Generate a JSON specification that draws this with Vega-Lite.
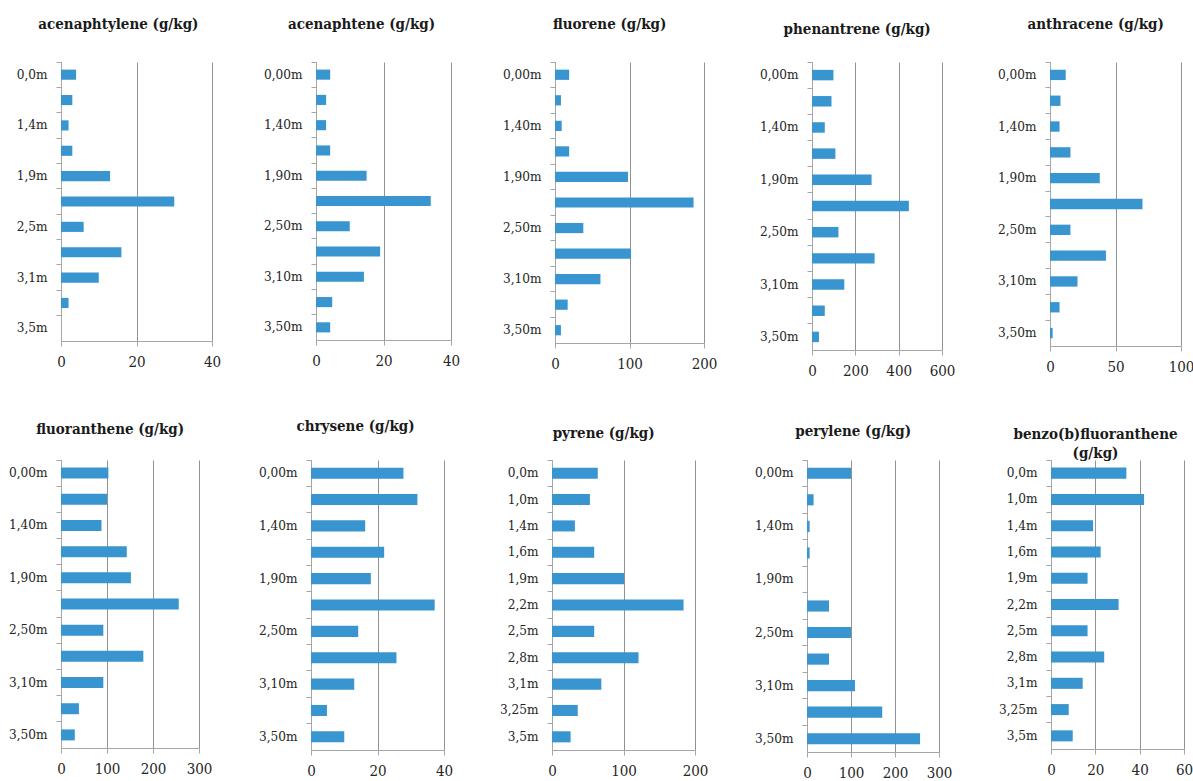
{
  "$schema": "https://vega.github.io/schema/vega-lite/v6.json",
  "padding": {"left": 8, "top": 16, "right": 0, "bottom": 0},
  "background": "white",
  "datasets": {
    "pah": [
      {"c": "acenaphtylene", "d": "0,0m", "v": 4},
      {"c": "acenaphtylene", "d": "1,0m", "v": 3},
      {"c": "acenaphtylene", "d": "1,4m", "v": 2},
      {"c": "acenaphtylene", "d": "1,6m", "v": 3},
      {"c": "acenaphtylene", "d": "1,9m", "v": 13},
      {"c": "acenaphtylene", "d": "2,2m", "v": 30},
      {"c": "acenaphtylene", "d": "2,5m", "v": 6},
      {"c": "acenaphtylene", "d": "2,8m", "v": 16},
      {"c": "acenaphtylene", "d": "3,1m", "v": 10},
      {"c": "acenaphtylene", "d": "3,25m", "v": 2},
      {"c": "acenaphtylene", "d": "3,5m", "v": 0},
      {"c": "acenaphtene", "d": "0,00m", "v": 4.2},
      {"c": "acenaphtene", "d": "1,00m", "v": 3},
      {"c": "acenaphtene", "d": "1,40m", "v": 3},
      {"c": "acenaphtene", "d": "1,60m", "v": 4.2},
      {"c": "acenaphtene", "d": "1,90m", "v": 15},
      {"c": "acenaphtene", "d": "2,20m", "v": 34},
      {"c": "acenaphtene", "d": "2,50m", "v": 10},
      {"c": "acenaphtene", "d": "2,80m", "v": 19},
      {"c": "acenaphtene", "d": "3,10m", "v": 14.2},
      {"c": "acenaphtene", "d": "3,25m", "v": 4.8},
      {"c": "acenaphtene", "d": "3,50m", "v": 4.2},
      {"c": "fluorene", "d": "0,00m", "v": 19},
      {"c": "fluorene", "d": "1,00m", "v": 8},
      {"c": "fluorene", "d": "1,40m", "v": 9},
      {"c": "fluorene", "d": "1,60m", "v": 19},
      {"c": "fluorene", "d": "1,90m", "v": 98},
      {"c": "fluorene", "d": "2,20m", "v": 186},
      {"c": "fluorene", "d": "2,50m", "v": 38},
      {"c": "fluorene", "d": "2,80m", "v": 102},
      {"c": "fluorene", "d": "3,10m", "v": 61},
      {"c": "fluorene", "d": "3,25m", "v": 17},
      {"c": "fluorene", "d": "3,50m", "v": 8},
      {"c": "phenantrene", "d": "0,00m", "v": 99},
      {"c": "phenantrene", "d": "1,00m", "v": 90},
      {"c": "phenantrene", "d": "1,40m", "v": 59},
      {"c": "phenantrene", "d": "1,60m", "v": 108},
      {"c": "phenantrene", "d": "1,90m", "v": 275},
      {"c": "phenantrene", "d": "2,20m", "v": 447},
      {"c": "phenantrene", "d": "2,50m", "v": 122},
      {"c": "phenantrene", "d": "2,80m", "v": 289},
      {"c": "phenantrene", "d": "3,10m", "v": 149},
      {"c": "phenantrene", "d": "3,25m", "v": 59},
      {"c": "phenantrene", "d": "3,50m", "v": 32},
      {"c": "anthracene", "d": "0,00m", "v": 12},
      {"c": "anthracene", "d": "1,00m", "v": 8},
      {"c": "anthracene", "d": "1,40m", "v": 7.3},
      {"c": "anthracene", "d": "1,60m", "v": 15.6},
      {"c": "anthracene", "d": "1,90m", "v": 38},
      {"c": "anthracene", "d": "2,20m", "v": 70.6},
      {"c": "anthracene", "d": "2,50m", "v": 15.6},
      {"c": "anthracene", "d": "2,80m", "v": 42.7},
      {"c": "anthracene", "d": "3,10m", "v": 21},
      {"c": "anthracene", "d": "3,25m", "v": 7.3},
      {"c": "anthracene", "d": "3,50m", "v": 2},
      {"c": "fluoranthene", "d": "0,00m", "v": 103},
      {"c": "fluoranthene", "d": "1,00m", "v": 100},
      {"c": "fluoranthene", "d": "1,40m", "v": 88},
      {"c": "fluoranthene", "d": "1,60m", "v": 143},
      {"c": "fluoranthene", "d": "1,90m", "v": 152},
      {"c": "fluoranthene", "d": "2,20m", "v": 256},
      {"c": "fluoranthene", "d": "2,50m", "v": 92},
      {"c": "fluoranthene", "d": "2,80m", "v": 179},
      {"c": "fluoranthene", "d": "3,10m", "v": 92},
      {"c": "fluoranthene", "d": "3,25m", "v": 39},
      {"c": "fluoranthene", "d": "3,50m", "v": 30},
      {"c": "chrysene", "d": "0,00m", "v": 27.8},
      {"c": "chrysene", "d": "1,00m", "v": 32},
      {"c": "chrysene", "d": "1,40m", "v": 16.3},
      {"c": "chrysene", "d": "1,60m", "v": 22},
      {"c": "chrysene", "d": "1,90m", "v": 18},
      {"c": "chrysene", "d": "2,20m", "v": 37.2},
      {"c": "chrysene", "d": "2,50m", "v": 14.2},
      {"c": "chrysene", "d": "2,80m", "v": 25.7},
      {"c": "chrysene", "d": "3,10m", "v": 13},
      {"c": "chrysene", "d": "3,25m", "v": 4.8},
      {"c": "chrysene", "d": "3,50m", "v": 10},
      {"c": "pyrene", "d": "0,0m", "v": 64},
      {"c": "pyrene", "d": "1,0m", "v": 53},
      {"c": "pyrene", "d": "1,4m", "v": 32},
      {"c": "pyrene", "d": "1,6m", "v": 59},
      {"c": "pyrene", "d": "1,9m", "v": 101},
      {"c": "pyrene", "d": "2,2m", "v": 184},
      {"c": "pyrene", "d": "2,5m", "v": 59},
      {"c": "pyrene", "d": "2,8m", "v": 121},
      {"c": "pyrene", "d": "3,1m", "v": 69},
      {"c": "pyrene", "d": "3,25m", "v": 36},
      {"c": "pyrene", "d": "3,5m", "v": 26},
      {"c": "perylene", "d": "0,00m", "v": 100},
      {"c": "perylene", "d": "1,00m", "v": 15},
      {"c": "perylene", "d": "1,40m", "v": 6},
      {"c": "perylene", "d": "1,60m", "v": 6},
      {"c": "perylene", "d": "1,90m", "v": 0},
      {"c": "perylene", "d": "2,20m", "v": 50},
      {"c": "perylene", "d": "2,50m", "v": 100},
      {"c": "perylene", "d": "2,80m", "v": 50},
      {"c": "perylene", "d": "3,10m", "v": 109},
      {"c": "perylene", "d": "3,25m", "v": 171},
      {"c": "perylene", "d": "3,50m", "v": 257},
      {"c": "benzo(b)fluoranthene", "d": "0,0m", "v": 34},
      {"c": "benzo(b)fluoranthene", "d": "1,0m", "v": 42},
      {"c": "benzo(b)fluoranthene", "d": "1,4m", "v": 19},
      {"c": "benzo(b)fluoranthene", "d": "1,6m", "v": 22.4},
      {"c": "benzo(b)fluoranthene", "d": "1,9m", "v": 16.5},
      {"c": "benzo(b)fluoranthene", "d": "2,2m", "v": 30.5},
      {"c": "benzo(b)fluoranthene", "d": "2,5m", "v": 16.5},
      {"c": "benzo(b)fluoranthene", "d": "2,8m", "v": 24},
      {"c": "benzo(b)fluoranthene", "d": "3,1m", "v": 14.3},
      {"c": "benzo(b)fluoranthene", "d": "3,25m", "v": 8},
      {"c": "benzo(b)fluoranthene", "d": "3,5m", "v": 9.8}
    ]
  },
  "data": {"name": "pah"},
  "config": {
    "font": "DejaVu Serif Condensed, DejaVu Serif",
    "view": {"stroke": null},
    "title": {"font": "DejaVu Serif Condensed, DejaVu Serif", "fontSize": 15, "fontWeight": "bold", "color": "#1a1a1a", "anchor": "middle", "frame": "bounds",
              "subtitleFont": "DejaVu Serif Condensed, DejaVu Serif", "subtitleFontSize": 15, "subtitleFontWeight": "bold", "subtitleColor": "#1a1a1a", "subtitlePadding": 4},
    "axis": {
      "labelFont": "DejaVu Serif Condensed, DejaVu Serif",
      "labelFontSize": 13.5,
      "labelColor": "#262626",
      "domainColor": "#a6a6a6",
      "tickColor": "#a6a6a6",
      "tickSize": 5,
      "gridColor": "#929292",
      "title": null
    },
    "axisX": {"grid": true, "labelFlush": false, "labelPadding": 8, "labelFontSize": 15, "domain": true},
    "axisY": {"grid": false, "bandPosition": 0, "labelPadding": 9},
    "bar": {"color": "#3995cf"}
  },
  "spacing": 40,
  "vconcat": [
    {
      "spacing": 42,
      "hconcat": [
        {
          "width": 151, "height": 279,
          "title": {"text": "acenaphtylene (g/kg)", "offset": 30},
          "transform": [{"filter": "datum.c == 'acenaphtylene'"}],
          "mark": {"type": "bar", "height": {"band": 0.4}},
          "encoding": {
            "y": {"field": "d", "type": "nominal", "sort": null, "scale": {"paddingInner": 0, "paddingOuter": 0},
                  "axis": {"labelExpr": "round(datum.index * 10) % 2 == 0 ? datum.label : ''"}},
            "x": {"field": "v", "type": "quantitative", "scale": {"domain": [0, 40], "nice": false}, "axis": {"values": [0, 20, 40]}}
          }
        },
        {
          "width": 135, "height": 278,
          "title": {"text": "acenaphtene (g/kg)", "offset": 30},
          "transform": [{"filter": "datum.c == 'acenaphtene'"}],
          "mark": {"type": "bar", "height": {"band": 0.4}},
          "encoding": {
            "y": {"field": "d", "type": "nominal", "sort": null, "scale": {"paddingInner": 0, "paddingOuter": 0},
                  "axis": {"labelExpr": "round(datum.index * 10) % 2 == 0 ? datum.label : ''"}},
            "x": {"field": "v", "type": "quantitative", "scale": {"domain": [0, 40], "nice": false}, "axis": {"values": [0, 20, 40]}}
          }
        },
        {
          "width": 149, "height": 281,
          "title": {"text": "fluorene (g/kg)", "offset": 30},
          "transform": [{"filter": "datum.c == 'fluorene'"}],
          "mark": {"type": "bar", "height": {"band": 0.4}},
          "encoding": {
            "y": {"field": "d", "type": "nominal", "sort": null, "scale": {"paddingInner": 0, "paddingOuter": 0},
                  "axis": {"labelExpr": "round(datum.index * 10) % 2 == 0 ? datum.label : ''"}},
            "x": {"field": "v", "type": "quantitative", "scale": {"domain": [0, 200], "nice": false}, "axis": {"values": [0, 100, 200]}}
          }
        },
        {
          "width": 130, "height": 288,
          "title": {"text": "phenantrene (g/kg)", "offset": 25},
          "transform": [{"filter": "datum.c == 'phenantrene'"}],
          "mark": {"type": "bar", "height": {"band": 0.4}},
          "encoding": {
            "y": {"field": "d", "type": "nominal", "sort": null, "scale": {"paddingInner": 0, "paddingOuter": 0},
                  "axis": {"labelExpr": "round(datum.index * 10) % 2 == 0 ? datum.label : ''"}},
            "x": {"field": "v", "type": "quantitative", "scale": {"domain": [0, 600], "nice": false}, "axis": {"values": [0, 200, 400, 600]}}
          }
        },
        {
          "width": 131, "height": 284,
          "title": {"text": "anthracene (g/kg)", "offset": 30},
          "transform": [{"filter": "datum.c == 'anthracene'"}],
          "mark": {"type": "bar", "height": {"band": 0.4}},
          "encoding": {
            "y": {"field": "d", "type": "nominal", "sort": null, "scale": {"paddingInner": 0, "paddingOuter": 0},
                  "axis": {"labelExpr": "round(datum.index * 10) % 2 == 0 ? datum.label : ''"}},
            "x": {"field": "v", "type": "quantitative", "scale": {"domain": [0, 100], "nice": false}, "axis": {"values": [0, 50, 100]}}
          }
        }
      ]
    },
    {
      "spacing": 46,
      "hconcat": [
        {
          "width": 138, "height": 288,
          "title": {"text": "fluoranthene (g/kg)", "offset": 23},
          "transform": [{"filter": "datum.c == 'fluoranthene'"}],
          "mark": {"type": "bar", "height": {"band": 0.42}},
          "encoding": {
            "y": {"field": "d", "type": "nominal", "sort": null, "scale": {"paddingInner": 0, "paddingOuter": 0},
                  "axis": {"labelExpr": "round(datum.index * 10) % 2 == 0 ? datum.label : ''"}},
            "x": {"field": "v", "type": "quantitative", "scale": {"domain": [0, 300], "nice": false}, "axis": {"values": [0, 100, 200, 300]}}
          }
        },
        {
          "width": 133, "height": 290,
          "title": {"text": "chrysene (g/kg)", "offset": 26},
          "transform": [{"filter": "datum.c == 'chrysene'"}],
          "mark": {"type": "bar", "height": {"band": 0.42}},
          "encoding": {
            "y": {"field": "d", "type": "nominal", "sort": null, "scale": {"paddingInner": 0, "paddingOuter": 0},
                  "axis": {"labelExpr": "round(datum.index * 10) % 2 == 0 ? datum.label : ''"}},
            "x": {"field": "v", "type": "quantitative", "scale": {"domain": [0, 40], "nice": false}, "axis": {"values": [0, 20, 40]}}
          }
        },
        {
          "width": 143, "height": 290,
          "title": {"text": "pyrene (g/kg)", "offset": 19},
          "transform": [{"filter": "datum.c == 'pyrene'"}],
          "mark": {"type": "bar", "height": {"band": 0.42}},
          "encoding": {
            "y": {"field": "d", "type": "nominal", "sort": null, "scale": {"paddingInner": 0, "paddingOuter": 0}},
            "x": {"field": "v", "type": "quantitative", "scale": {"domain": [0, 200], "nice": false}, "axis": {"values": [0, 100, 200]}}
          }
        },
        {
          "width": 132, "height": 292,
          "title": {"text": "perylene (g/kg)", "offset": 21},
          "transform": [{"filter": "datum.c == 'perylene'"}],
          "mark": {"type": "bar", "height": {"band": 0.42}},
          "encoding": {
            "y": {"field": "d", "type": "nominal", "sort": null, "scale": {"paddingInner": 0, "paddingOuter": 0},
                  "axis": {"labelExpr": "round(datum.index * 10) % 2 == 0 ? datum.label : ''"}},
            "x": {"field": "v", "type": "quantitative", "scale": {"domain": [0, 300], "nice": false}, "axis": {"values": [0, 100, 200, 300]}}
          }
        },
        {
          "width": 133, "height": 289,
          "title": {"text": "benzo(b)fluoranthene", "subtitle": "(g/kg)", "offset": -1},
          "transform": [{"filter": "datum.c == 'benzo(b)fluoranthene'"}],
          "mark": {"type": "bar", "height": {"band": 0.42}},
          "encoding": {
            "y": {"field": "d", "type": "nominal", "sort": null, "scale": {"paddingInner": 0, "paddingOuter": 0}},
            "x": {"field": "v", "type": "quantitative", "scale": {"domain": [0, 60], "nice": false}, "axis": {"values": [0, 20, 40, 60]}}
          }
        }
      ]
    }
  ]
}
